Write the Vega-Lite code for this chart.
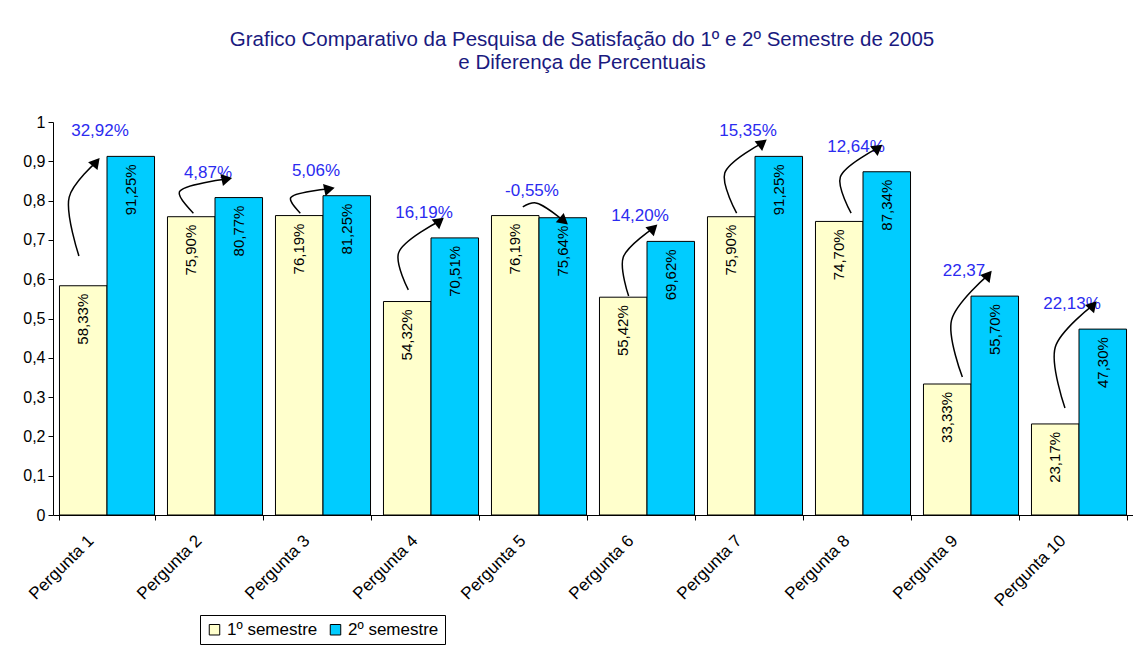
{
  "$schema": "https://vega.github.io/schema/vega-lite/v6.json",
  "width": 1080,
  "height": 393,
  "autosize": {"type": "none"},
  "padding": {"left": 53, "top": 122, "right": 0, "bottom": 138},
  "background": "white",
  "title": {
    "text": ["Grafico Comparativo da Pesquisa de Satisfação do 1º e 2º Semestre de 2005", "e Diferença de Percentuais"],
    "color": "#1a1a80",
    "font": "Liberation Sans",
    "fontSize": 20.5,
    "fontWeight": "normal",
    "anchor": "middle",
    "dx": -11,
    "offset": 41,
    "lineHeight": 23
  },
  "config": {
    "locale": {"number": {"decimal": ",", "thousands": ".", "grouping": [3], "currency": ["R$", ""], "minus": "-"}},
    "view": {"stroke": null},
    "font": "Liberation Sans",
    "axis": {"grid": false, "domainColor": "black", "tickColor": "black", "labelColor": "black", "labelFont": "Liberation Sans", "labelFontSize": 16}
  },
  "datasets": {
    "bars": [
      {"q": "Pergunta 1", "sem": "1º semestre", "v": 0.5833},
      {"q": "Pergunta 1", "sem": "2º semestre", "v": 0.9125},
      {"q": "Pergunta 2", "sem": "1º semestre", "v": 0.7590},
      {"q": "Pergunta 2", "sem": "2º semestre", "v": 0.8077},
      {"q": "Pergunta 3", "sem": "1º semestre", "v": 0.7619},
      {"q": "Pergunta 3", "sem": "2º semestre", "v": 0.8125},
      {"q": "Pergunta 4", "sem": "1º semestre", "v": 0.5432},
      {"q": "Pergunta 4", "sem": "2º semestre", "v": 0.7051},
      {"q": "Pergunta 5", "sem": "1º semestre", "v": 0.7619},
      {"q": "Pergunta 5", "sem": "2º semestre", "v": 0.7564},
      {"q": "Pergunta 6", "sem": "1º semestre", "v": 0.5542},
      {"q": "Pergunta 6", "sem": "2º semestre", "v": 0.6962},
      {"q": "Pergunta 7", "sem": "1º semestre", "v": 0.7590},
      {"q": "Pergunta 7", "sem": "2º semestre", "v": 0.9125},
      {"q": "Pergunta 8", "sem": "1º semestre", "v": 0.7470},
      {"q": "Pergunta 8", "sem": "2º semestre", "v": 0.8734},
      {"q": "Pergunta 9", "sem": "1º semestre", "v": 0.3333},
      {"q": "Pergunta 9", "sem": "2º semestre", "v": 0.5570},
      {"q": "Pergunta 10", "sem": "1º semestre", "v": 0.2317},
      {"q": "Pergunta 10", "sem": "2º semestre", "v": 0.4730}
    ],
    "diffs": [
      {"q": "Pergunta 1", "v2": 0.9125, "lbl": "32,92%"},
      {"q": "Pergunta 2", "v2": 0.8077, "lbl": "4,87%"},
      {"q": "Pergunta 3", "v2": 0.8125, "lbl": "5,06%"},
      {"q": "Pergunta 4", "v2": 0.7051, "lbl": "16,19%"},
      {"q": "Pergunta 5", "v2": 0.7619, "lbl": "-0,55%"},
      {"q": "Pergunta 6", "v2": 0.6962, "lbl": "14,20%"},
      {"q": "Pergunta 7", "v2": 0.9125, "lbl": "15,35%"},
      {"q": "Pergunta 8", "v2": 0.8734, "lbl": "12,64%"},
      {"q": "Pergunta 9", "v2": 0.5570, "lbl": "22,37"},
      {"q": "Pergunta 10", "v2": 0.4730, "lbl": "22,13%"}
    ],
    "arrows": [
      {"a": 1, "k": 0, "gx": 0.24, "y": 0.659}, {"a": 1, "k": 1, "gx": 0.15, "y": 0.809}, {"a": 1, "k": 2, "gx": 0.40, "y": 0.898},
      {"a": 2, "k": 0, "gx": 1.30, "y": 0.768}, {"a": 2, "k": 1, "gx": 1.17, "y": 0.822}, {"a": 2, "k": 2, "gx": 1.61, "y": 0.855},
      {"a": 3, "k": 0, "gx": 2.29, "y": 0.768}, {"a": 3, "k": 1, "gx": 2.20, "y": 0.807}, {"a": 3, "k": 2, "gx": 2.56, "y": 0.830},
      {"a": 4, "k": 0, "gx": 3.29, "y": 0.573}, {"a": 4, "k": 1, "gx": 3.20, "y": 0.667}, {"a": 4, "k": 2, "gx": 3.58, "y": 0.748},
      {"a": 5, "k": 0, "gx": 4.35, "y": 0.784}, {"a": 5, "k": 1, "gx": 4.47, "y": 0.794}, {"a": 5, "k": 2, "gx": 4.73, "y": 0.748},
      {"a": 6, "k": 0, "gx": 5.33, "y": 0.557}, {"a": 6, "k": 1, "gx": 5.28, "y": 0.656}, {"a": 6, "k": 2, "gx": 5.56, "y": 0.730},
      {"a": 7, "k": 0, "gx": 6.33, "y": 0.768}, {"a": 7, "k": 1, "gx": 6.22, "y": 0.870}, {"a": 7, "k": 2, "gx": 6.57, "y": 0.947},
      {"a": 8, "k": 0, "gx": 7.39, "y": 0.768}, {"a": 8, "k": 1, "gx": 7.29, "y": 0.860}, {"a": 8, "k": 2, "gx": 7.64, "y": 0.934},
      {"a": 9, "k": 0, "gx": 8.42, "y": 0.351}, {"a": 9, "k": 1, "gx": 8.32, "y": 0.496}, {"a": 9, "k": 2, "gx": 8.66, "y": 0.611},
      {"a": 10, "k": 0, "gx": 9.37, "y": 0.272}, {"a": 10, "k": 1, "gx": 9.28, "y": 0.427}, {"a": 10, "k": 2, "gx": 9.63, "y": 0.534}
    ],
    "heads": [
      {"a": 1, "gx": 0.40, "y": 0.898, "dir": -50},
      {"a": 2, "gx": 1.61, "y": 0.855, "dir": -12},
      {"a": 3, "gx": 2.56, "y": 0.830, "dir": -12},
      {"a": 4, "gx": 3.58, "y": 0.748, "dir": -38},
      {"a": 5, "gx": 4.73, "y": 0.748, "dir": 40},
      {"a": 6, "gx": 5.56, "y": 0.730, "dir": -43},
      {"a": 7, "gx": 6.57, "y": 0.947, "dir": -38},
      {"a": 8, "gx": 7.64, "y": 0.934, "dir": -37},
      {"a": 9, "gx": 8.66, "y": 0.611, "dir": -50},
      {"a": 10, "gx": 9.63, "y": 0.534, "dir": -48}
    ]
  },
  "layer": [
    {
      "data": {"name": "bars"},
      "mark": {"type": "bar", "stroke": "black", "strokeWidth": 1},
      "encoding": {
        "x": {
          "field": "q", "type": "nominal", "sort": null,
          "scale": {"paddingInner": 0.12, "paddingOuter": 0.06},
          "axis": {"title": null, "labelAngle": -45, "tickBand": "extent", "tickSize": 5, "labelPadding": 12, "labelOffset": -22, "labelFontSize": 17}
        },
        "xOffset": {"field": "sem", "type": "nominal", "scale": {"paddingInner": 0, "paddingOuter": 0}},
        "y": {
          "field": "v", "type": "quantitative",
          "scale": {"domain": [0, 1], "nice": false},
          "axis": {"title": null, "values": [0, 0.1, 0.2, 0.3, 0.4, 0.5, 0.6, 0.7, 0.8, 0.9, 1], "format": ".1~f", "tickSize": 5, "labelPadding": 3, "labelOverlap": false}
        },
        "color": {
          "field": "sem", "type": "nominal",
          "scale": {"domain": ["1º semestre", "2º semestre"], "range": ["#FFFFCC", "#00CCFF"]},
          "legend": {
            "title": null, "orient": "none", "direction": "horizontal",
            "legendX": 147, "legendY": 493,
            "symbolType": "square", "symbolSize": 110, "symbolStrokeColor": "black", "symbolStrokeWidth": 1,
            "labelFontSize": 17, "labelFont": "Liberation Sans", "labelColor": "black",
            "strokeColor": "black", "fillColor": "white", "padding": 6, "columnPadding": 9, "labelOffset": 4
          }
        }
      }
    },
    {
      "data": {"name": "bars"},
      "mark": {"type": "text", "angle": 270, "align": "right", "baseline": "middle", "dx": -8, "fontSize": 15, "color": "black", "font": "Liberation Sans"},
      "encoding": {
        "x": {"field": "q", "type": "nominal", "sort": null, "scale": {"paddingInner": 0.12, "paddingOuter": 0.06}, "axis": null},
        "xOffset": {"field": "sem", "type": "nominal", "scale": {"paddingInner": 0, "paddingOuter": 0}},
        "y": {"field": "v", "type": "quantitative", "axis": {"title": null, "values": [0, 0.1, 0.2, 0.3, 0.4, 0.5, 0.6, 0.7, 0.8, 0.9, 1], "format": ".1~f", "tickSize": 5, "labelPadding": 3, "labelOverlap": false}},
        "text": {"field": "v", "type": "quantitative", "format": ".2%"}
      }
    },
    {
      "data": {"name": "diffs"},
      "mark": {"type": "text", "align": "center", "baseline": "middle", "dy": -25, "dx": -7, "fontSize": 17, "color": "#2b2bf0", "font": "Liberation Sans"},
      "encoding": {
        "x": {"field": "q", "type": "nominal", "sort": null, "scale": {"paddingInner": 0.12, "paddingOuter": 0.06}, "axis": null},
        "y": {"field": "v2", "type": "quantitative", "axis": {"title": null, "values": [0, 0.1, 0.2, 0.3, 0.4, 0.5, 0.6, 0.7, 0.8, 0.9, 1], "format": ".1~f", "tickSize": 5, "labelPadding": 3, "labelOverlap": false}},
        "text": {"field": "lbl", "type": "nominal"}
      }
    },
    {
      "mark": {"type": "rule", "color": "black", "strokeWidth": 1},
      "encoding": {"y": {"datum": 1, "type": "quantitative", "axis": {"title": null, "values": [0, 0.1, 0.2, 0.3, 0.4, 0.5, 0.6, 0.7, 0.8, 0.9, 1], "format": ".1~f", "tickSize": 5, "labelPadding": 3, "labelOverlap": false}}}
    },
    {
      "data": {"name": "arrows"},
      "mark": {"type": "line", "color": "black", "strokeWidth": 1.5, "interpolate": "catmull-rom"},
      "encoding": {
        "x": {"field": "gx", "type": "quantitative", "scale": {"domain": [0, 10], "nice": false, "zero": false}, "axis": null},
        "y": {"field": "y", "type": "quantitative", "axis": {"title": null, "values": [0, 0.1, 0.2, 0.3, 0.4, 0.5, 0.6, 0.7, 0.8, 0.9, 1], "format": ".1~f", "tickSize": 5, "labelPadding": 3, "labelOverlap": false}},
        "detail": {"field": "a", "type": "nominal"},
        "order": {"field": "k", "type": "quantitative"}
      }
    },
    {
      "data": {"name": "heads"},
      "mark": {"type": "point", "shape": "triangle-right", "filled": true, "color": "black", "size": 150, "opacity": 1},
      "encoding": {
        "x": {"field": "gx", "type": "quantitative", "scale": {"domain": [0, 10], "nice": false, "zero": false}, "axis": null},
        "y": {"field": "y", "type": "quantitative", "axis": {"title": null, "values": [0, 0.1, 0.2, 0.3, 0.4, 0.5, 0.6, 0.7, 0.8, 0.9, 1], "format": ".1~f", "tickSize": 5, "labelPadding": 3, "labelOverlap": false}},
        "angle": {"field": "dir", "type": "quantitative", "scale": null}
      }
    }
  ],
  "resolve": {"scale": {"x": "independent"}}
}
